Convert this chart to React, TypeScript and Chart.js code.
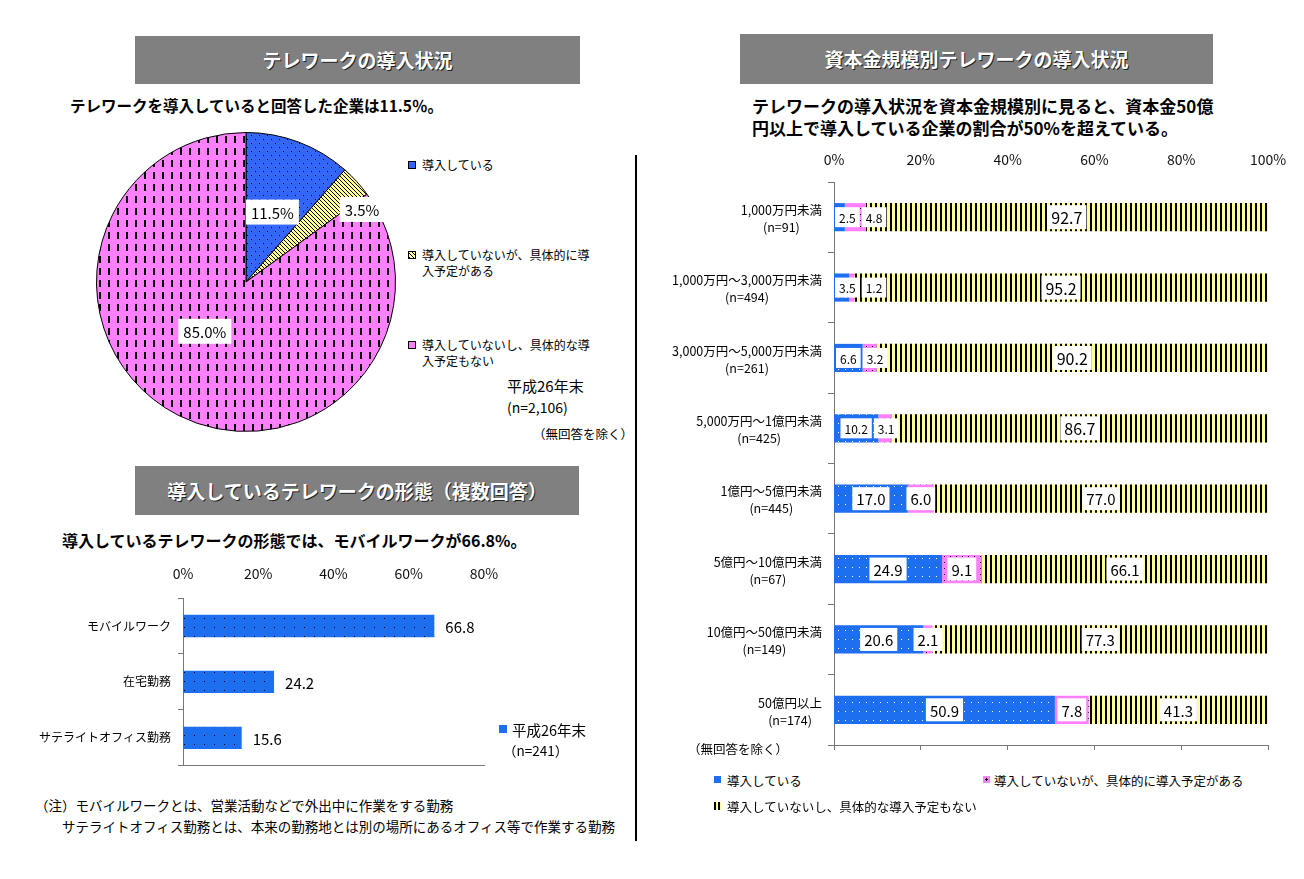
import React, { useEffect, useRef } from 'react';
import { Chart, registerables } from 'chart.js';

Chart.register(...registerables);

const FONT = "'Noto Sans CJK JP', 'Noto Sans', sans-serif";
Chart.defaults.font.family = FONT;
Chart.defaults.color = '#000';

// ---------------- Data ----------------
// Pie: テレワークの導入状況
const pieLabels = ['導入している', '導入していないが、具体的に導入予定がある', '導入していないし、具体的な導入予定もない'];
const pieValues = [11.5, 3.5, 85.0];

// Bar: 導入しているテレワークの形態
const formCategories = ['モバイルワーク', '在宅勤務', 'サテライトオフィス勤務'];
const formValues = [66.8, 24.2, 15.6];
const formSeriesName = '平成26年末';
const formAxisMax = 80;
const formAxisStep = 20;

// Stacked bar: 資本金規模別
const capitalCategories = [
  '1,000万円未満',
  '1,000万円～3,000万円未満',
  '3,000万円～5,000万円未満',
  '5,000万円～1億円未満',
  '1億円～5億円未満',
  '5億円～10億円未満',
  '10億円～50億円未満',
  '50億円以上',
];
const capitalSamples = [91, 494, 261, 425, 445, 67, 149, 174];
const seriesIntroduced = [2.5, 3.5, 6.6, 10.2, 17.0, 24.9, 20.6, 50.9];
const seriesPlanned = [4.8, 1.2, 3.2, 3.1, 6.0, 9.1, 2.1, 7.8];
const seriesNotPlanned = [92.7, 95.2, 90.2, 86.7, 77.0, 66.1, 77.3, 41.3];
const capitalSeriesNames = ['導入している', '導入していないが、具体的に導入予定がある', '導入していないし、具体的な導入予定もない'];
const capitalAxisMax = 100;
const capitalAxisStep = 20;

// ---------------- Styles ----------------
const BLUE = '#1E6EF0';
const PIE_BLUE = '#3366FF';
const PINK = '#FF80FF';
const YELLOW = '#FFFF99';
const SMALL_LABEL_ROWS = 4;
const pieLabelPlacement = [
  { r: 0.5, dx: 0, dy: 0 },
  { r: 0.85, dx: 22, dy: 13 },
  { r: 0.43, dx: -12, dy: -8 },
];

function makePattern(w: number, h: number, bg: string, draw: (g: CanvasRenderingContext2D) => void) {
  const c = document.createElement('canvas');
  c.width = w;
  c.height = h;
  const g = c.getContext('2d')!;
  g.fillStyle = bg;
  g.fillRect(0, 0, w, h);
  g.fillStyle = '#000';
  g.strokeStyle = '#000';
  draw(g);
  return g.createPattern(c, 'repeat')!;
}

const pieLabelPlugin = {
  id: 'pieLabelPlugin',
  afterDatasetsDraw(chart: any) {
    const ctx = chart.ctx;
    const meta = chart.getDatasetMeta(0);
    ctx.save();
    meta.data.forEach((arc: any, i: number) => {
      const p = arc.getProps(['x', 'y', 'startAngle', 'endAngle', 'outerRadius'], true);
      const mid = (p.startAngle + p.endAngle) / 2;
      const o = pieLabelPlacement[i];
      const px = p.x + Math.cos(mid) * p.outerRadius * o.r + o.dx;
      const py = p.y + Math.sin(mid) * p.outerRadius * o.r + o.dy;
      const text = pieValues[i].toFixed(1) + '%';
      ctx.font = `15px ${FONT}`;
      const w = ctx.measureText(text).width + 10;
      const h = 25;
      ctx.fillStyle = '#fff';
      ctx.fillRect(px - w / 2, py - h / 2, w, h);
      ctx.fillStyle = '#000';
      ctx.textAlign = 'center';
      ctx.textBaseline = 'middle';
      ctx.fillText(text, px, py + 1);
    });
    ctx.restore();
  },
};

const formValuePlugin = {
  id: 'formValuePlugin',
  afterDatasetsDraw(chart: any) {
    const ctx = chart.ctx;
    ctx.save();
    ctx.font = `15px ${FONT}`;
    ctx.fillStyle = '#000';
    ctx.textAlign = 'left';
    ctx.textBaseline = 'middle';
    chart.getDatasetMeta(0).data.forEach((bar: any, i: number) => {
      const p = bar.getProps(['x', 'y'], true);
      ctx.fillText(formValues[i].toFixed(1), p.x + 11, p.y + 1);
    });
    ctx.restore();
  },
};

const capitalLabelPlugin = {
  id: 'capitalLabelPlugin',
  afterDatasetsDraw(chart: any) {
    const ctx = chart.ctx;
    ctx.save();
    ctx.textAlign = 'center';
    ctx.textBaseline = 'middle';
    for (let r = 0; r < capitalCategories.length; r++) {
      let prevRight = chart.chartArea.left - 1;
      chart.data.datasets.forEach((ds: any, di: number) => {
        const el: any = chart.getDatasetMeta(di).data[r];
        const p = el.getProps(['x', 'y', 'base'], true);
        const v = ds.data[r] as number;
        const size = r < SMALL_LABEL_ROWS ? (di < 2 ? 12 : 16) : 15;
        ctx.font = `${size}px ${FONT}`;
        const text = v.toFixed(1);
        const w = ctx.measureText(text).width + 8;
        const h = size + 8;
        let left = (p.x + p.base) / 2 - w / 2;
        if (left < prevRight + 2) left = prevRight + 2;
        prevRight = left + w;
        ctx.fillStyle = '#fff';
        ctx.fillRect(left, p.y - h / 2, w, h);
        ctx.fillStyle = '#000';
        ctx.fillText(text, left + w / 2, p.y + 1);
      });
    }
    ctx.restore();
  },
};

const capitalCategoryPlugin = {
  id: 'capitalCategoryPlugin',
  afterDraw(chart: any) {
    const ctx = chart.ctx;
    const ys = chart.scales.y;
    ctx.save();
    ctx.font = `12.5px ${FONT}`;
    ctx.fillStyle = '#000';
    ctx.textAlign = 'center';
    ctx.textBaseline = 'middle';
    capitalCategories.forEach((c, i) => {
      const y = ys.getPixelForValue(i);
      const l2 = `(n=${capitalSamples[i]})`;
      const bw = Math.max(ctx.measureText(c).width, ctx.measureText(l2).width);
      const cx = chart.chartArea.left - 12 - bw / 2;
      ctx.fillText(c, cx, y - 7);
      ctx.fillText(l2, cx, y + 10);
    });
    ctx.restore();
  },
};

const abs = (left: number, top: number, extra: React.CSSProperties = {}): React.CSSProperties => ({
  position: 'absolute',
  left,
  top,
  whiteSpace: 'nowrap',
  ...extra,
});

function Text({ x, y, size, children, bold, style }: any) {
  const lh = Math.round(size + 6);
  return (
    <div
      style={abs(x, y - lh / 2, {
        fontSize: size,
        lineHeight: `${lh}px`,
        fontWeight: bold ? 700 : 400,
        color: '#000',
        ...style,
      })}
    >
      {children}
    </div>
  );
}

function Header({ x, y, w, h, children }: any) {
  return (
    <div
      style={abs(x, y, {
        width: w,
        height: h,
        background: '#808080',
        color: '#fff',
        fontWeight: 700,
        fontSize: 19,
        lineHeight: `${h}px`,
        textAlign: 'center',
        textShadow: '1px 1px 0 #222',
      })}
    >
      {children}
    </div>
  );
}

export default function App() {
  const pieRef = useRef<HTMLCanvasElement>(null);
  const formRef = useRef<HTMLCanvasElement>(null);
  const capRef = useRef<HTMLCanvasElement>(null);

  useEffect(() => {
    const charts: Chart[] = [];

    const pieBlue = makePattern(8, 8, PIE_BLUE, (g) => {
      g.fillRect(1, 1, 1, 1);
      g.fillRect(5, 5, 1, 1);
    });
    const pieYellow = makePattern(4, 4, YELLOW, (g) => {
      g.lineWidth = 1;
      g.beginPath();
      g.moveTo(-1, -1);
      g.lineTo(5, 5);
      g.stroke();
    });
    const piePink = makePattern(9, 12, PINK, (g) => {
      g.fillRect(4, 2, 2, 7);
    });

    charts.push(
      new Chart(pieRef.current!, {
        type: 'pie',
        data: {
          labels: pieLabels,
          datasets: [
            {
              data: pieValues,
              backgroundColor: [pieBlue, pieYellow, piePink] as any,
              borderColor: '#000',
              borderWidth: 1,
              hoverOffset: 0,
              offset: 0,
            },
          ],
        },
        options: {
          responsive: false,
          animation: false,
          events: [],
          layout: { padding: 10 },
          plugins: { legend: { display: false }, tooltip: { enabled: false } },
        },
        plugins: [pieLabelPlugin],
      })
    );

    const formBlue = makePattern(10, 9, BLUE, (g) => {
      g.fillRect(4, 4, 1, 1);
    });

    charts.push(
      new Chart(formRef.current!, {
        type: 'bar',
        data: {
          labels: formCategories,
          datasets: [
            {
              label: formSeriesName,
              data: formValues,
              backgroundColor: formBlue as any,
              barPercentage: 0.4,
              categoryPercentage: 1,
            },
          ],
        },
        options: {
          indexAxis: 'y',
          responsive: false,
          animation: false,
          events: [],
          layout: { padding: { left: 0, right: 136, top: 0, bottom: 0 } },
          plugins: { legend: { display: false }, tooltip: { enabled: false } },
          scales: {
            x: {
              position: 'top',
              min: 0,
              max: formAxisMax,
              ticks: { stepSize: formAxisStep, padding: 16, font: { size: 14 }, color: '#111', callback: (v: any) => `${v}%` },
              grid: { display: false, drawTicks: false },
              border: { display: false },
              afterFit: (s: any) => {
                s.height = 38;
              },
            },
            x2: {
              position: 'bottom',
              min: 0,
              max: formAxisMax,
              ticks: { display: false },
              grid: { display: false, drawTicks: false },
              border: { display: true, color: '#777' },
              afterFit: (s: any) => {
                s.height = 8;
              },
            },
            y: {
              ticks: { font: { size: 12 }, color: '#000', padding: 7 },
              grid: { drawOnChartArea: false, tickLength: 5, color: '#777' },
              border: { display: true, color: '#777' },
              afterFit: (s: any) => {
                s.width = 163;
              },
            },
          },
        } as any,
        plugins: [formValuePlugin],
      })
    );

    const capBlue = makePattern(7, 9, BLUE, (g) => {
      g.fillStyle = '#fff';
      g.fillRect(3, 4, 1, 1);
    });
    const capPink = makePattern(6, 6, PINK, (g) => {
      g.fillRect(2, 2, 1, 1);
    });
    const capYellow = makePattern(5, 4, YELLOW, (g) => {
      g.fillRect(0, 0, 2, 4);
    });

    charts.push(
      new Chart(capRef.current!, {
        type: 'bar',
        data: {
          labels: capitalCategories,
          datasets: [
            { label: capitalSeriesNames[0], data: seriesIntroduced, backgroundColor: capBlue as any },
            { label: capitalSeriesNames[1], data: seriesPlanned, backgroundColor: capPink as any },
            { label: capitalSeriesNames[2], data: seriesNotPlanned, backgroundColor: capYellow as any },
          ].map((d) => ({ ...d, barPercentage: 0.4, categoryPercentage: 1 })),
        },
        options: {
          indexAxis: 'y',
          responsive: false,
          animation: false,
          events: [],
          layout: { padding: { left: 0, right: 36, top: 0, bottom: 0 } },
          plugins: { legend: { display: false }, tooltip: { enabled: false } },
          scales: {
            x: {
              position: 'top',
              stacked: true,
              min: 0,
              max: capitalAxisMax,
              ticks: { stepSize: capitalAxisStep, padding: 14, font: { size: 14 }, color: '#111', callback: (v: any) => `${v}%` },
              grid: { display: false, drawTicks: false },
              border: { display: false },
              afterFit: (s: any) => {
                s.height = 42;
              },
            },
            x2: {
              position: 'bottom',
              min: 0,
              max: capitalAxisMax,
              ticks: { display: false, stepSize: capitalAxisStep },
              grid: { drawOnChartArea: false, drawTicks: true, tickLength: 5, color: '#777' },
              border: { display: true, color: '#777' },
              afterFit: (s: any) => {
                s.height = 15;
              },
            },
            y: {
              stacked: true,
              ticks: { display: false },
              grid: { drawOnChartArea: false, tickLength: 6, color: '#777' },
              border: { display: true, color: '#777' },
              afterFit: (s: any) => {
                s.width = 174;
              },
            },
          },
        } as any,
        plugins: [capitalLabelPlugin, capitalCategoryPlugin],
      })
    );

    return () => charts.forEach((c) => c.destroy());
  }, []);

  const sq = (x: number, y: number, bg: string, extra: React.CSSProperties = {}) => (
    <div style={abs(x, y, { width: 8, height: 8, boxSizing: 'border-box', background: bg, ...extra })} />
  );

  return (
    <div
      style={{
        position: 'absolute',
        left: 0,
        top: 0,
        width: 1304,
        height: 879,
        background: '#fff',
        overflow: 'hidden',
        fontFamily: FONT,
      }}
    >
      {/* Left top: pie */}
      <Header x={135} y={36} w={445} h={48}>テレワークの導入状況</Header>
      <Text x={70} y={105} size={15.5} bold>テレワークを導入していると回答した企業は11.5％。</Text>
      <canvas ref={pieRef} width={320} height={320} style={abs(86, 122)} />

      {sq(408, 161, PIE_BLUE, { border: '1px solid #000' })}
      <Text x={422} y={165} size={12}>{pieLabels[0]}</Text>
      {sq(408, 251, YELLOW, {
        border: '1px solid #000',
        backgroundImage: 'repeating-linear-gradient(45deg, #000 0 1px, #FFFF99 1px 3px)',
      })}
      <Text x={422} y={255} size={12}>導入していないが、具体的に導</Text>
      <Text x={422} y={271} size={12}>入予定がある</Text>
      {sq(408, 341, PINK, { border: '1px solid #000' })}
      <Text x={422} y={345} size={12}>導入していないし、具体的な導</Text>
      <Text x={422} y={361} size={12}>入予定もない</Text>
      <Text x={507} y={385} size={15}>平成26年末</Text>
      <Text x={507} y={407} size={14}>(n=2,106)</Text>
      <Text x={533} y={433} size={12.5}>（無回答を除く）</Text>

      {/* Left bottom: forms */}
      <Header x={135} y={466} w={444} h={49}>導入しているテレワークの形態（複数回答）</Header>
      <Text x={62} y={540} size={16} bold>導入しているテレワークの形態では、モバイルワークが66.8%。</Text>
      <canvas ref={formRef} width={600} height={220} style={abs(20, 560)} />
      {sq(499, 725, BLUE)}
      <Text x={512} y={729} size={14.5}>{formSeriesName}</Text>
      <Text x={503} y={750} size={13.5}>（n=241）</Text>
      <Text x={35} y={805} size={13.5}>（注）モバイルワークとは、営業活動などで外出中に作業をする勤務</Text>
      <Text x={62} y={826} size={13.5}>サテライトオフィス勤務とは、本来の勤務地とは別の場所にあるオフィス等で作業する勤務</Text>

      {/* Separator */}
      <div style={abs(635, 155, { width: 2, height: 686, background: '#000' })} />

      {/* Right: capital */}
      <Header x={740} y={34} w={473} h={50}>資本金規模別テレワークの導入状況</Header>
      <Text x={752} y={105} size={17} bold>テレワークの導入状況を資本金規模別に見ると、資本金50億</Text>
      <Text x={752} y={127} size={17} bold>円以上で導入している企業の割合が50%を超えている。</Text>
      <canvas ref={capRef} width={644} height={620} style={abs(660, 140)} />
      <Text x={688} y={748} size={12.5}>（無回答を除く）</Text>

      {sq(714, 776, BLUE, { width: 7, height: 7 })}
      <Text x={727} y={780} size={12.5}>{capitalSeriesNames[0]}</Text>
      {sq(983, 776, PINK, {
        width: 7,
        height: 7,
        backgroundImage: 'radial-gradient(circle at 50% 50%, #000 0 1.2px, transparent 1.3px)',
      })}
      <Text x={994} y={780} size={12.5}>{capitalSeriesNames[1]}</Text>
      {sq(714, 802, YELLOW, {
        width: 7,
        height: 8,
        backgroundImage: 'repeating-linear-gradient(90deg, #000 0 2px, #FFFF99 2px 4px)',
      })}
      <Text x={727} y={806} size={12.5}>{capitalSeriesNames[2]}</Text>
    </div>
  );
}
